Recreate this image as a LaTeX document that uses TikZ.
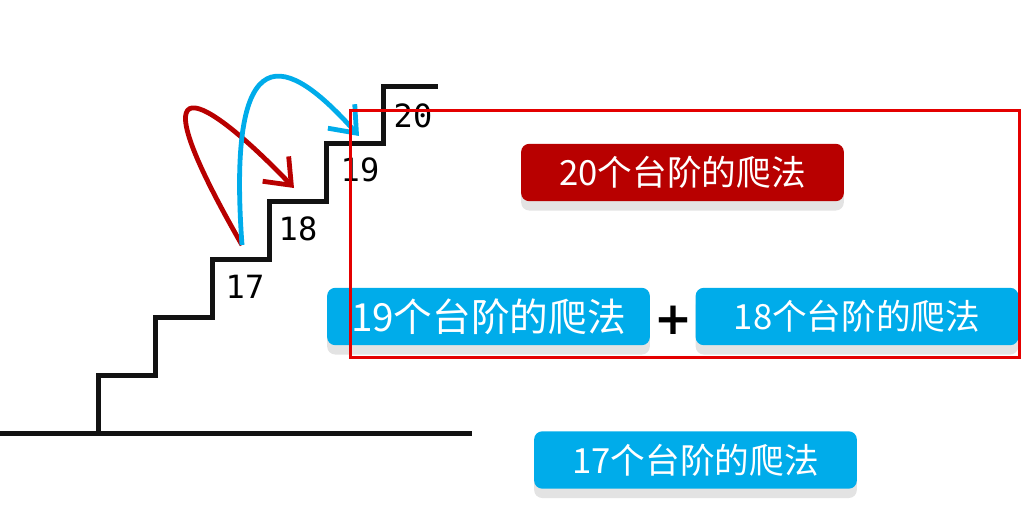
\documentclass[tikz,border=0pt]{standalone}
\usepackage{fontspec}
\usepackage{tikz}
\usetikzlibrary{shapes, positioning, arrows.meta, shadows}
\newfontfamily\cjk{Noto Sans CJK SC}
\newfontfamily\mono{DejaVu Sans Mono}
\newfontfamily\plusfont{DejaVu Sans}
\definecolor{stepred}{RGB}{184,0,0}
\definecolor{stepblue}{RGB}{0,172,234}
\definecolor{framered}{RGB}{228,0,0}

\begin{document}
\begin{tikzpicture}[x=0.75pt, y=-0.75pt]
    % Define the style for the boxes
    \tikzset{
        waybox/.style={rectangle, rounded corners=6pt, minimum width=242pt, minimum height=43pt, inner sep=0pt, text=white, font=\cjk\fontsize{26}{26}\selectfont, general shadow={fill=black!11, shadow yshift=-7pt}},
        steplabel/.style={font=\mono\fontsize{24}{24}\selectfont, inner sep=0pt},
        hop/.style={line width=3.6pt, -{Straight Barb[length=17pt, width=27pt, line width=3.6pt]}}
    }
    \useasboundingbox (0,0) rectangle (1021,528);

    % Draw the staircase
    \draw[line width=3.75pt, color=black!93] (0,433) -- (472,433)
        (98,433) -- (98,375) -- (155,375) -- (155,317) -- (212,317) -- (212,259)
        -- (269,259) -- (269,201) -- (326,201) -- (326,143) -- (383,143) -- (383,87) -- (438,87);

    % Step numbers
    \node[steplabel] (n17) at (245,287) {17};
    \node[steplabel] (n18) at (298,229) {18};
    \node[steplabel] (n19) at (360,170) {19};
    \node[steplabel] (n20) at (413,116) {20};

    % Where the hops start and land
    \coordinate (from17) at (242,245);
    \coordinate (to18) at (294,188);
    \coordinate (to19) at (359,136);

    \draw[hop, stepred] (from17) .. controls (130,50) and (205,95) .. (to18);
    \draw[hop, stepblue] (from17) .. controls (225,10) and (300,70) .. (to19);

    % The ways to climb
    \node[waybox, fill=stepred] (ways20) at (682.5,172.5) {20个台阶的爬法};
    \node[waybox, fill=stepblue, font=\cjk\fontsize{29}{29}\selectfont] (ways19) at (488.5,316.5) {19个台阶的爬法};
    \node[font=\plusfont\bfseries\fontsize{34}{34}\selectfont, inner sep=0pt] (plus) at (673,320) {+};
    \node[waybox, fill=stepblue] (ways18) at (857,316.5) {18个台阶的爬法};
    \node[waybox, fill=stepblue] (ways17) at (695.5,460) {17个台阶的爬法};

    % Frame round the sum
    \draw[framered, line width=2.25pt] (350,111) rectangle (1019,357);
\end{tikzpicture}
\end{document}
